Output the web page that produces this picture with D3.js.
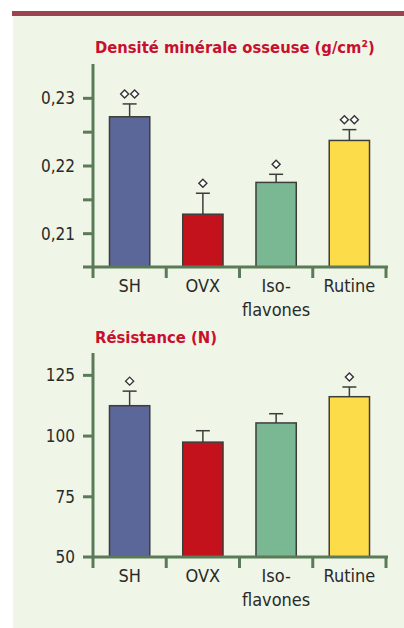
<!DOCTYPE html>
<html><head><meta charset="utf-8">
<script src="https://cdn.jsdelivr.net/npm/d3@7"></script>
<style>
html,body{margin:0;padding:0;background:#fff;}
svg{display:block;}
text{font-family:'DejaVu Sans Condensed','DejaVu Sans',sans-serif;font-stretch:condensed;}
</style></head>
<body>
<script>
const categories = ["SH", "OVX", "Iso-|flavones", "Rutine"];
const colors = ["#5b6699", "#c4121c", "#7ab894", "#fddc4a"];
const densityValues = [0.2272, 0.2128, 0.2175, 0.2237];
const densityErrors = [0.0019, 0.0031, 0.0012, 0.0016];
const densityMarks = [2, 1, 1, 2];
const densityTicks = [0.21, 0.215, 0.22, 0.225, 0.23];
const densityLabels = ["0,21", "", "0,22", "", "0,23"];
const resistValues = [112.3, 97.3, 105.2, 116.0];
const resistErrors = [6.0, 4.7, 3.8, 4.0];
const resistMarks = [1, 0, 0, 1];
const resistTicks = [75, 100, 125];
const resistLabels = ["75", "100", "125"];

const W = 404, H = 628;
const svg = d3.select("body").append("svg").attr("width", W).attr("height", H);
svg.append("rect").attr("x", 13).attr("y", 16).attr("width", W - 13).attr("height", H - 16).attr("fill", "#eff5e7");
svg.append("rect").attr("x", 12).attr("y", 11).attr("width", W - 12).attr("height", 5).attr("fill", "#9b4450");

const axisColor = "#5b7b58";
const textColor = "#2a2a2a";
const x = d3.scaleBand().domain(categories).range([93, 386]).paddingInner(0.45).paddingOuter(0.225);

function fit(sel, w) {
  const n = sel.node();
  const cur = n.getComputedTextLength();
  const fs = parseFloat(sel.attr("font-size"));
  sel.attr("font-size", fs * w / cur);
}

function panel(opt) {
  const g = svg.append("g");
  const y = d3.scaleLinear().domain(opt.domain).range([opt.bottom, opt.top]);
  const t = g.append("text").attr("x", 95).attr("y", opt.titleY).text(opt.title)
    .attr("fill", "#c8102e").attr("font-weight", "bold").attr("font-size", 17);
  fit(t, opt.titleW);
  const yAxis = d3.axisLeft(y).tickValues(opt.ticks).tickSize(10).tickPadding(8)
    .tickFormat((d, i) => opt.labels[i]);
  const ya = g.append("g").attr("transform", "translate(93,0)").call(yAxis);
  ya.attr("font-family", null);
  ya.select(".domain").remove();
  ya.selectAll(".tick line").attr("stroke", axisColor).attr("stroke-width", 3);
  ya.selectAll(".tick text").attr("font-size", 17).attr("fill", textColor).attr("dy", "0.36em");
  g.selectAll("rect.bar").data(opt.values).join("rect").attr("class", "bar")
    .attr("x", (d, i) => x(categories[i])).attr("width", x.bandwidth())
    .attr("y", d => y(d)).attr("height", d => opt.bottom - y(d))
    .attr("fill", (d, i) => colors[i]).attr("stroke", "#3d3d3a").attr("stroke-width", 1.5);
  const cx = i => x(categories[i]) + x.bandwidth() / 2;
  opt.values.forEach((v, i) => {
    const top = y(v + opt.errors[i]);
    g.append("line").attr("x1", cx(i)).attr("x2", cx(i)).attr("y1", y(v)).attr("y2", top)
      .attr("stroke", "#3d3d3a").attr("stroke-width", 1.5);
    g.append("line").attr("x1", cx(i) - 7).attr("x2", cx(i) + 7).attr("y1", top).attr("y2", top)
      .attr("stroke", "#3d3d3a").attr("stroke-width", 1.5);
    const n = opt.marks[i];
    for (let k = 0; k < n; k++) {
      const mx = cx(i) + (k - (n - 1) / 2) * 10;
      const my = top - 10;
      g.append("path").attr("d", `M${mx},${my - 4}L${mx + 4},${my}L${mx},${my + 4}L${mx - 4},${my}Z`)
        .attr("fill", "#fff").attr("stroke", "#333").attr("stroke-width", 1.4);
    }
  });
  g.append("line").attr("x1", 93).attr("x2", 93).attr("y1", opt.top).attr("y2", opt.bottom + 11)
    .attr("stroke", axisColor).attr("stroke-width", 3);
  g.append("line").attr("x1", 83).attr("x2", 388).attr("y1", opt.bottom).attr("y2", opt.bottom)
    .attr("stroke", axisColor).attr("stroke-width", 3);
  categories.forEach(c => {
    const bx = x(c) + x.bandwidth() + x.step() * x.paddingInner() / 2;
    g.append("line").attr("x1", bx).attr("x2", bx).attr("y1", opt.bottom).attr("y2", opt.bottom + 11)
      .attr("stroke", axisColor).attr("stroke-width", 3);
  });
  categories.forEach(c => {
    c.split("|").forEach((l, j) => {
      g.append("text").attr("x", x(c) + x.bandwidth() / 2).attr("y", opt.bottom + 25 + j * 24)
        .attr("text-anchor", "middle").attr("font-size", 18)
        .attr("fill", textColor).text(l);
    });
  });
  if (opt.baseLabel) {
    g.append("text").attr("x", 75).attr("y", opt.bottom).attr("dy", "0.36em")
      .attr("text-anchor", "end").attr("font-size", 17).attr("fill", textColor)
      .text(opt.baseLabel);
  }
}

panel({title: "Densité minérale osseuse (g/cm²)", titleY: 53, titleW: 280, domain: [0.205, 0.235], top: 64, bottom: 267,
  values: densityValues, errors: densityErrors, marks: densityMarks, ticks: densityTicks, labels: densityLabels});
panel({title: "Résistance (N)", titleY: 343, titleW: 122, domain: [50, 134], top: 353, bottom: 557,
  values: resistValues, errors: resistErrors, marks: resistMarks, ticks: resistTicks, labels: resistLabels, baseLabel: "50"});
</script>
</body></html>
